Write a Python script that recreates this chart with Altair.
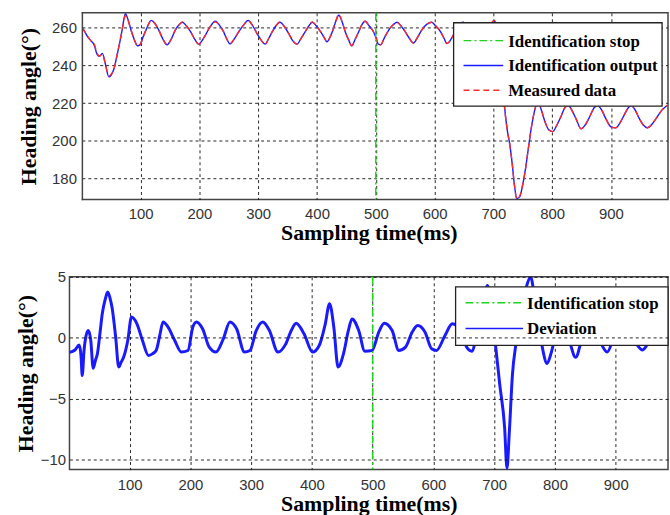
import altair as alt
import pandas as pd

# ---------------- data ----------------
time_top = [1, 5, 10, 16, 21, 26, 30, 35, 40, 46,
            50, 55, 60, 65, 69, 74, 78, 83, 89, 95,
            99, 104, 110, 118, 124, 131, 138, 145, 152, 159,
            165, 171, 178, 185, 192, 199, 205, 210, 218, 227,
            234, 241, 246, 252, 260, 267, 275, 283, 290, 298,
            305, 312, 318, 324, 330, 337, 345, 352, 358, 366,
            373, 380, 386, 392, 399, 406, 412, 417, 422, 427,
            432, 437, 443, 448, 454, 459, 465, 471, 476, 482,
            489, 496, 500, 504, 508, 515, 522, 529, 536, 543,
            550, 557, 564, 571, 578, 587, 595, 602, 610, 616,
            621, 628, 635, 641, 648, 655, 662, 669, 675, 681,
            688, 695, 702, 707, 711, 715, 719, 724, 728, 732,
            736, 740, 745, 750, 755, 759, 764, 770, 776, 782,
            788, 794, 801, 808, 815, 821, 827, 834, 841, 849,
            856, 864, 871, 877, 884, 891, 900, 908, 915, 922,
            928, 934, 941, 948, 955, 962, 970, 978, 987, 996]

output_top = [260, 258, 255.3, 253, 251, 246, 245, 246.5, 241, 234,
              235, 238.6, 245.6, 253, 259.6, 267.5, 265, 259.6, 254, 250.5,
              251, 255, 259.5, 264, 262.5, 258.8, 254, 251, 254, 258.8,
              261.5, 263, 261, 258, 254, 251.4, 253.5, 256, 260.5, 263.5,
              261.5, 258, 254.5, 251.5, 254.5, 258, 261.5, 264, 261.5, 257,
              253.5, 251.4, 254.5, 258, 261, 263, 260.5, 257, 253.5, 251.4,
              254.5, 258, 261, 263, 261, 258, 255, 252.6, 255, 258.8,
              263.5, 266.7, 263, 258, 253.5, 250.5, 254, 258, 261.5, 263.5,
              261, 258, 255, 251.5, 251, 255, 258.8, 261.5, 263, 261,
              258, 254.5, 252, 255, 258.8, 262, 263, 261, 258, 254.5,
              251.7, 254, 258, 261.5, 263, 260, 256, 252.5, 252, 254.5,
              258.5, 262, 263.7, 258, 248, 234, 218, 205, 198, 188,
              176, 169.5, 170.5, 177, 186, 195, 206, 216, 221, 216,
              210, 206, 205, 208.5, 213, 217.5, 219, 216, 211.5, 206.5,
              208.5, 213, 217.5, 219, 216.5, 212, 207.5, 207, 209.5, 213.5,
              217, 219, 216.5, 212, 208.5, 207, 209, 212.5, 216.5, 219]

measured_top = [260, 258, 255.5, 253, 251.5, 246.5, 245, 246, 241, 234.5,
                235.5, 238.6, 245.6, 253, 259.5, 266.5, 264.5, 259.6, 254, 250.5,
                251, 255, 259.5, 263.8, 262.5, 258.8, 254, 251, 254, 258.8,
                261.5, 263.2, 261, 258, 254, 251.4, 253.5, 256, 260.5, 263.2,
                261.5, 258, 254.5, 251.5, 254.5, 258, 261.5, 263.8, 261.5, 257,
                253.5, 251.4, 254.5, 258, 261, 263.2, 260.5, 257, 253.5, 251.4,
                254.5, 258, 261, 263.2, 261, 258, 255, 252.6, 255, 258.8,
                263.5, 267.2, 263, 258, 253.5, 250.5, 254, 258, 261.5, 263.5,
                261, 258, 255, 251.5, 251, 255, 258.8, 261.5, 263, 261,
                258, 254.5, 252, 255, 258.8, 262, 263, 261, 258, 254.5,
                251.7, 254, 258, 261.5, 263.2, 260, 256, 252.5, 252, 254.5,
                258.5, 262, 263.9, 258, 248, 234, 218, 205, 198, 188,
                176, 169, 171, 177, 186, 195, 206, 216, 221, 216,
                210, 206, 205, 208.5, 213, 217.5, 219, 216, 211.5, 206.5,
                208.5, 213, 217.5, 219, 216.5, 212, 207.5, 207, 209.5, 213.5,
                217, 219, 216.5, 212, 208.5, 207, 209, 212.5, 216.5, 219]

time_dev = [1, 10, 17, 20, 22, 25, 28, 32, 36, 40,
            44, 47, 51, 55, 60, 64, 68, 71, 77, 82,
            86, 90, 97, 103, 112, 121, 131, 138, 144, 150,
            155, 163, 174, 185, 196, 204, 210, 220, 231, 242,
            254, 265, 276, 289, 298, 308, 319, 330, 344, 357,
            366, 374, 387, 401, 412, 422, 429, 436, 443, 452,
            460, 466, 477, 487, 499, 510, 519, 532, 543, 554,
            565, 574, 586, 597, 605, 619, 631, 645, 655, 663,
            672, 680, 689, 695, 703, 709, 717, 721, 725, 730,
            736, 745, 753, 760, 767, 775, 780, 787, 794, 803,
            812, 822, 834, 845, 856, 868, 886, 898, 910, 925,
            944, 955, 965, 980, 986]

deviation = [-1.2, -1.0, -0.6, -1.5, -3.1, -1.0, 0.1, 0.6, -0.2, -2.5,
             -1.8, -1.3, 0.3, 2.0, 3.2, 3.75, 3.2, 2.5, 0.05, -2.4,
             -2.0, -1.6, -0.2, 1.7, 1.15, -0.2, -1.45, -1.3, -1.0, 0.3,
             1.3, 0.9, -0.2, -1.17, -1.04, 0.88, 1.3, 0.74, -0.77, -1.17,
             -0.1, 1.3, 0.74, -1.17, -1.04, 0.55, 1.3, 0.6, -1.17, -0.5,
             0.6, 1.2, 0.33, -1.17, -0.63, 1.15, 2.8, 0.88, -2.4, -1.3,
             0.6, 1.55, 0.6, -1.1, -1.04, 0.47, 1.2, 0.6, -1.04, -0.77,
             0.47, 1.0, 0.47, -0.9, -1.04, 0.19, 1.15, 0.5, -0.8, -1.1,
             0.5, 2.5, 4.3, 2.0, -1.0, -3.8, -7.3, -10.7, -7.6, -3.0,
             -0.4, 2.5, 4.2, 5.0, 3.0, 0.5, -1.0, -2.1, -1.2, 0.6,
             1.0, 0.0, -1.6, 0.0, 0.9, 0.3, -1.17, 0.2, 0.8, 0.2,
             -1.0, -0.3, 0.4, -0.2, 0.3]

stop_time = [500]
x_ticks = [100, 200, 300, 400, 500, 600, 700, 800, 900]
y_ticks_top = [180, 200, 220, 240, 260]
y_ticks_bottom = [-10, -5, 0, 5]

legend_top = ["Identification stop", "Identification output", "Measured data"]
legend_bottom = ["Identification stop", "Deviation"]

# ---------------- styling ----------------
GREEN = "#1ed41e"
BLUE = "#1a1aff"
RED = "#ff2a2a"
FRAME = "#444"
GRID = "#111"
GRID_DASH = [3, 3]
DASH_STOP = [8, 3, 2, 3]
DASH_MEAS = [6, 4]
SERIF = "Liberation Serif"
SANS = "Liberation Sans"
TITLE_Y = "Heading angle(°)"
TITLE_X = "Sampling time(ms)"

# The top plot frame starts 13 px to the right of the bottom one.  Both views
# share the same left origin in a vconcat, so the top view gets the same
# width, its left strip is masked and the scale maps t=1 to the visible frame.
SHIFT = 13
TOP_W, BOT_W = 603, 603
TOP_H, BOT_H = 188, 194
top_t0 = 1 - SHIFT * (997 - 1) / (TOP_W - SHIFT)


def x_enc(domain, label_pad, title_pad):
    return alt.X("t:Q", scale=alt.Scale(domain=domain, nice=False, zero=False),
                 axis=alt.Axis(values=x_ticks, title=TITLE_X, labelPadding=label_pad,
                               titlePadding=title_pad))


def y_enc(domain, ticks, label_pad, title_pad, grid=True):
    return alt.Y("v:Q", scale=alt.Scale(domain=domain, nice=False, zero=False),
                 axis=alt.Axis(values=ticks, title=TITLE_Y, labelPadding=label_pad,
                               titlePadding=title_pad, grid=grid, zindex=1))


one = pd.DataFrame({"k": [0]})


def legend_layers(box, rows, sym, text_x, labels, colors, dashes):
    layers = [alt.Chart(one).mark_rect(fill="white", stroke="#222", strokeWidth=1.3).encode(
        x=alt.value(box[0]), x2=alt.value(box[1]), y=alt.value(box[2]), y2=alt.value(box[3]))]
    for lab, yy, col, dsh in zip(labels, rows, colors, dashes):
        layers.append(alt.Chart(one).mark_rule(color=col, strokeWidth=1.5, strokeDash=dsh).encode(
            x=alt.value(sym[0]), x2=alt.value(sym[1]), y=alt.value(yy)))
        layers.append(alt.Chart(one).mark_text(
            align="left", baseline="middle", font=SERIF, fontWeight="bold",
            fontSize=17, color="black").encode(
            x=alt.value(text_x), y=alt.value(yy + 1), text=alt.value(lab)))
    return layers


# ---------------- top panel ----------------
df_out = pd.DataFrame({"t": time_top, "v": output_top})
df_meas = pd.DataFrame({"t": time_top, "v": measured_top})
df_stop = pd.DataFrame({"t": stop_time})
df_ygrid_top = pd.DataFrame({"v": y_ticks_top})

xt = x_enc([top_t0, 997], 7, 1)
yt = y_enc([169, 268], y_ticks_top, 6 - SHIFT, 11, grid=False)

top_ygrid = alt.Chart(df_ygrid_top).mark_rule(
    color=GRID, strokeWidth=1, strokeDash=GRID_DASH, opacity=0.9).encode(
    y=yt, x=alt.value(SHIFT), x2=alt.value(TOP_W))
top_out = alt.Chart(df_out).mark_line(color=BLUE, strokeWidth=1.4, clip=True,
                                      interpolate="monotone").encode(x=xt, y="v:Q")
top_meas = alt.Chart(df_meas).mark_line(color=RED, strokeWidth=1.4, strokeDash=DASH_MEAS,
                                        clip=True, interpolate="monotone").encode(x="t:Q", y="v:Q")
top_stop = alt.Chart(df_stop).mark_rule(color=GREEN, strokeWidth=1.5,
                                        strokeDash=DASH_STOP).encode(x="t:Q")
# mask of the unused left strip and the real left border of the top frame
top_mask = alt.Chart(one).mark_rect(fill="white").encode(
    x=alt.value(-2), x2=alt.value(SHIFT - 0.75), y=alt.value(-2), y2=alt.value(TOP_H + 2))
top_left_edge = alt.Chart(one).mark_rule(color=FRAME, strokeWidth=1.5).encode(
    x=alt.value(SHIFT), y=alt.value(-0.75), y2=alt.value(TOP_H + 0.75))

top = alt.layer(
    top_ygrid, top_out, top_meas, top_stop, top_mask, top_left_edge,
    *legend_layers((374 + SHIFT, 584 + SHIFT, 10, 94), [28, 53, 78],
                   (384 + SHIFT, 424 + SHIFT), 429 + SHIFT, legend_top,
                   [GREEN, BLUE, RED], [DASH_STOP, [1, 0], DASH_MEAS])
).properties(width=TOP_W, height=TOP_H)

# ---------------- bottom panel ----------------
df_dev = pd.DataFrame({"t": time_dev, "v": deviation})

xb = x_enc([1, 986], 8, 1)
yb = y_enc([-10.8, 5], y_ticks_bottom, 4, 3)

bot_dev = alt.Chart(df_dev).mark_line(color=BLUE, strokeWidth=3, clip=True,
                                      interpolate="monotone").encode(x=xb, y=yb)
bot_stop = alt.Chart(df_stop).mark_rule(color=GREEN, strokeWidth=1.5,
                                        strokeDash=DASH_STOP).encode(x="t:Q")

bottom = alt.layer(
    bot_dev, bot_stop,
    *legend_layers((389, 603, 10, 69), [26, 52], (399, 457), 461, legend_bottom,
                   [GREEN, BLUE], [DASH_STOP, [1, 0]])
).properties(width=BOT_W, height=BOT_H)

chart = alt.vconcat(top, bottom, spacing=25).resolve_scale(
    x="independent", y="independent"
).properties(
    padding={"left": 13, "top": 8, "right": 0, "bottom": 0},
    background="white",
).configure_view(
    stroke=FRAME, strokeWidth=1.5
).configure_axis(
    grid=True, gridColor=GRID, gridDash=GRID_DASH, gridWidth=1, gridOpacity=0.9,
    domain=False, ticks=False,
    labelFont=SANS, labelFontSize=15, labelColor="#333",
    titleFont=SERIF, titleFontSize=22, titleFontWeight="bold", titleColor="black",
)

chart.save("out.html", embed_options={"renderer": "svg", "actions": False})
